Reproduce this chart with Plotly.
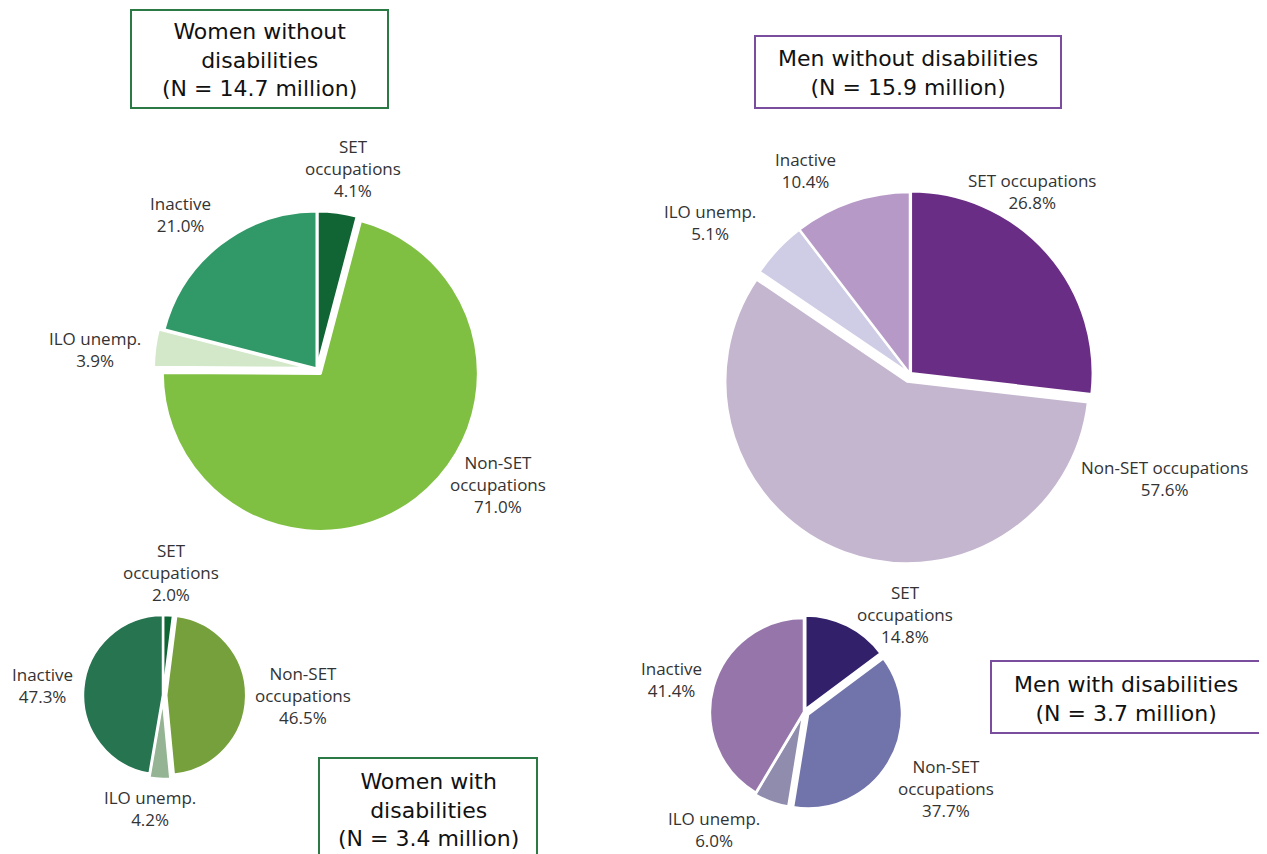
import plotly.graph_objects as go

W, H = 1267, 854
OFF = 8  # page body margin

categories = ["SET occupations", "Non-SET occupations", "ILO unemp.", "Inactive"]

women_without = [4.1, 71.0, 3.9, 21.0]
men_without = [26.8, 57.6, 5.1, 10.4]
women_with = [2.0, 46.5, 4.2, 47.3]
men_with = [14.8, 37.7, 6.0, 41.4]

titles = [
    ["Women without", "disabilities", "(N = 14.7 million)"],
    ["Men without disabilities", "(N = 15.9 million)"],
    ["Women with", "disabilities", "(N = 3.4 million)"],
    ["Men with disabilities", "(N = 3.7 million)"],
]

green_colors = ["#116535", "#7fbf42", "#d2e8c8", "#319968"]
purple_colors = ["#6a2d85", "#c4b6cf", "#cfcce6", "#b799c8"]
green_dis_colors = ["#0f6635", "#76a03c", "#94b493", "#267450"]
purple_dis_colors = ["#33206a", "#7174aa", "#8f8cae", "#9676aa"]


def px(x):
    return (x - OFF) / W


def py(y):
    return 1 - (y - OFF) / H


def dom(cx, cy, half):
    return dict(x=[px(cx - half), px(cx + half)], y=[py(cy + half), py(cy - half)])


fig = go.Figure()

pies = [
    # values, colors, center, radius, pulls, line width
    (women_without, green_colors, (317, 369), 158, [0, 0.035, 0.035, 0], 3),
    (men_without, purple_colors, (910, 374), 182, [0.006, 0.044, 0, 0], 2.5),
    (women_with, green_dis_colors, (163, 695), 80, [0, 0.04, 0.05, 0], 2.5),
    (men_with, purple_dis_colors, (804, 712), 94, [0.03, 0.05, 0.02, 0], 2.5),
]

for vals, cols, (cx, cy), r, pulls, lw in pies:
    half = r * (1 + max(pulls))
    fig.add_trace(go.Pie(
        labels=categories, values=vals, sort=False, direction="clockwise",
        rotation=0, pull=pulls, textinfo="none", hoverinfo="label+value",
        marker=dict(colors=cols, line=dict(color="white", width=lw)),
        domain=dom(cx, cy, half), showlegend=False,
    ))

# label annotations: (pie values, category index, x, y of middle, wrap)
label_specs = [
    (women_without, 0, 353, 168, True),
    (women_without, 1, 498, 485, True),
    (women_without, 2, 95, 349, False),
    (women_without, 3, 180, 215, False),
    (men_without, 0, 1032, 191, False),
    (men_without, 1, 1164, 479, False),
    (men_without, 2, 710, 223, False),
    (men_without, 3, 806, 170, False),
    (women_with, 0, 171, 572, True),
    (women_with, 1, 303, 695, True),
    (women_with, 2, 150, 808, False),
    (women_with, 3, 42, 685, False),
    (men_with, 0, 905, 614, True),
    (men_with, 1, 946, 788, True),
    (men_with, 2, 714, 829, False),
    (men_with, 3, 671, 679, False),
]

for vals, i, x, y, wrap in label_specs:
    name = categories[i]
    if wrap:
        name = name.replace(" ", "<br>")
    fig.add_annotation(
        x=px(x), y=py(y), xref="paper", yref="paper", showarrow=False,
        text=f"{name}<br>{vals[i]:.1f}%", align="center",
        font=dict(family="Open Sans", size=17, color="#333333"),
        xanchor="center", yanchor="middle",
    )

# title boxes: (x0, y0, x1, y1, color, text centre y)
boxes = [
    (131, 10, 388, 108, "#2b7a45", 60),
    (755, 36, 1061, 108, "#7a4d9e", 73),
    (319, 758, 537, 880, "#2b7a45", 810),
    (991, 661, 1260, 733, "#7a4d9e", 699),
]

for (x0, y0, x1, y1, col, ty), lines in zip(boxes, titles):
    fig.add_shape(type="rect", xref="paper", yref="paper",
                  x0=px(x0), x1=px(x1), y0=py(y1), y1=py(y0),
                  line=dict(color=col, width=2), fillcolor="white", layer="below")
    fig.add_annotation(
        x=px((x0 + x1) / 2), y=py(ty), xref="paper", yref="paper",
        showarrow=False, text="<br>".join(lines), align="center",
        font=dict(family="DejaVu Sans", size=22, color="#111111"),
        xanchor="center", yanchor="middle",
    )

fig.update_layout(
    width=W, height=H, margin=dict(l=0, r=0, t=0, b=0),
    paper_bgcolor="white", plot_bgcolor="white",
)

fig.write_html("out.html")
